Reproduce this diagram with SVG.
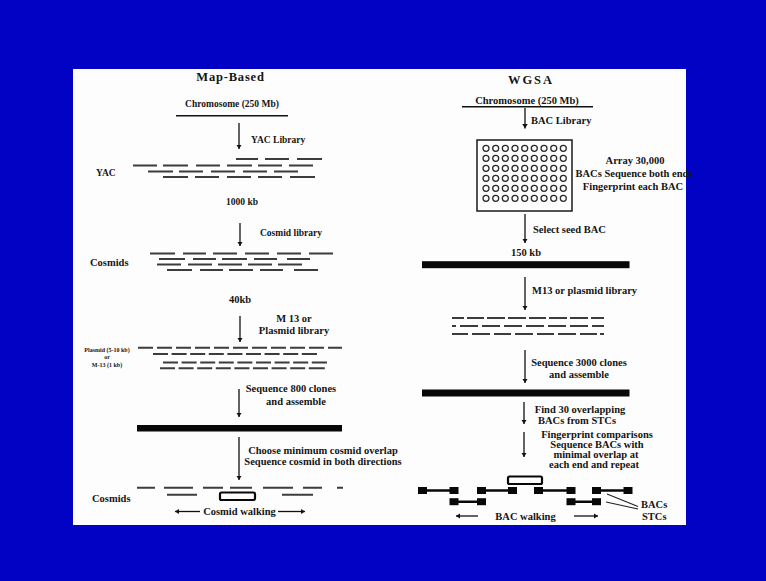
<svg xmlns="http://www.w3.org/2000/svg" xmlns:xlink="http://www.w3.org/1999/xlink" width="766" height="581" viewBox="0 0 766 581">
<style>
text{font-family:"Liberation Serif","Times New Roman",serif;font-weight:bold;fill:#151515;font-size:10.5px}
.s{font-size:9.5px}
.h{font-size:12.5px}
.t{font-size:6px}
.m{text-anchor:middle}
.ln{stroke:#111;stroke-width:1.5;fill:none}
.ar{stroke:#111;stroke-width:1.3;fill:none;marker-end:url(#ah)}
.da{stroke:#3c3c3c;stroke-width:2;fill:none}
.bar{fill:#080808}
.blk{fill:#080808}
.cb{fill:#fff;stroke:#080808;stroke-width:2.2}
.ci{fill:none;stroke:#2a2a2a;stroke-width:1.3}
</style>
<defs>
<marker id="ah" viewBox="0 0 8 10" refX="8" refY="5" markerWidth="4.5" markerHeight="5.5" markerUnits="userSpaceOnUse" orient="auto">
<path d="M0,0 L8,5 L0,10 z" fill="#111"/>
</marker>
<g id="crow">
<circle class="ci" cx="486" cy="0" r="3"/><circle class="ci" cx="495.7" cy="0" r="3"/><circle class="ci" cx="505.3" cy="0" r="3"/><circle class="ci" cx="515" cy="0" r="3"/><circle class="ci" cx="524.7" cy="0" r="3"/><circle class="ci" cx="534.3" cy="0" r="3"/><circle class="ci" cx="544" cy="0" r="3"/><circle class="ci" cx="553.7" cy="0" r="3"/><circle class="ci" cx="563.3" cy="0" r="3"/>
</g>
</defs>
<rect x="0" y="0" width="766" height="581" fill="#0202c4"/>
<rect x="73" y="69" width="613" height="456" fill="#fdfdfd"/>

<!-- Left column: Map-Based -->
<g id="map-title"><text class="h m" x="230.5" y="81" letter-spacing="0.8">Map-Based</text></g>
<g id="chromosome-left">
<text class="s m" x="232" y="106.5">Chromosome (250 Mb)</text>
<line class="ln" x1="176" y1="115.7" x2="288" y2="115.7"/>
</g>
<g id="yac">
<text class="s" x="96" y="176">YAC</text>
<path class="da" d="M236,159h22M265,159h24M297,159h25M133,165.5h24M163,165.5h25M196,165.5h24M227,165.5h25M258,165.5h24M289,165.5h24M148,171.5h25M179,171.5h24M211,171.5h24M243,171.5h24M274,171.5h24M163,177h25M195,177h24M227,177h24M258,177h24M290,177h25"/>
<text class="s m" x="242" y="205">1000 kb</text>
</g>
<g id="cosmids">
<text x="90" y="266">Cosmids</text>
<path class="da" d="M150,253.5h25M183,253.5h23M213,253.5h24M245,253.5h24M277,253.5h24M309,253.5h24M159,259h26M193,259h23M222,259h25M254,259h23M287,259h23M157,264.5h24M188,264.5h24M218,264.5h24M248,264.5h24M278,264.5h24M167,270h25M200,270h23M229,270h24M260,270h23M294,270h24"/>
<text class="m" x="240" y="302.5">40kb</text>
</g>
<g id="plasmid">
<text class="t m" x="107" y="351.5">Plasmid (5-10 kb)</text>
<text class="t m" x="107" y="359">or</text>
<text class="t m" x="107" y="367">M-13 (1 kb)</text>
<path class="da" d="M138,347.7h15M157,347.7h15M176,347.7h15M195,347.7h15M214,347.7h15M233,347.7h15M252,347.7h15M271,347.7h15M290,347.7h15M309,347.7h15M328,347.7h14M153,354h15M171.6,354h15M190.2,354h15M208.8,354h15M227.4,354h15M246,354h15M264.6,354h15M283.2,354h15M301.8,354h15.2M163,362.5h15M181.6,362.5h15M200.2,362.5h15M218.8,362.5h15M237.4,362.5h15M256,362.5h15M274.6,362.5h15M293.2,362.5h15M311.8,362.5h15.2M160,368.3h15M178.6,368.3h15M197.2,368.3h15M215.8,368.3h15M234.4,368.3h15M253,368.3h15M271.6,368.3h15M290.2,368.3h15M308.8,368.3h16"/>
</g>
<g id="assembled-left">
<rect class="bar" x="137" y="425" width="205" height="6.5"/>
</g>
<g id="cosmid-walk">
<text x="92" y="501.5">Cosmids</text>
<path class="da" d="M137,487.7h18M164,487.7h29M203,487.7h20M230,487.7h22M263,487.7h30M303,487.7h19M337,487.7h6M167,494.7h30M282,494.7h31"/>
<rect class="cb" x="220" y="492.5" width="35" height="7.5" rx="1.5"/>
<text class="m" x="239.5" y="515">Cosmid walking</text>
</g>

<!-- Right column: WGSA -->
<g id="wgsa-title"><text class="h m" x="531" y="83.5" letter-spacing="2">WGSA</text></g>
<g id="chromosome-right">
<text class="m" x="527" y="103.5">Chromosome (250 Mb)</text>
<line class="ln" x1="462" y1="106.7" x2="593" y2="106.7"/>
</g>
<g id="bac-array">
<rect x="477" y="140" width="95" height="71" fill="none" stroke="#1a1a1a" stroke-width="1.5"/>
<use xlink:href="#crow" y="148.3"/>
<use xlink:href="#crow" y="158.3"/>
<use xlink:href="#crow" y="168.3"/>
<use xlink:href="#crow" y="178.3"/>
<use xlink:href="#crow" y="188.3"/>
<use xlink:href="#crow" y="198.3"/>
<text class="m" x="635" y="163.5">Array 30,000</text>
<text class="m" x="634" y="176.5">BACs Sequence both ends</text>
<text class="m" x="633" y="190">Fingerprint each BAC</text>
</g>
<g id="seed-bac">
<text class="m" x="526" y="255.5">150 kb</text>
<rect class="bar" x="422" y="261.2" width="207.5" height="7"/>
</g>
<g id="m13-reads">
<path class="da" d="M452,318h12M467,318h17M487,318h18M508,318h18M529,318h17M549,318h18M570,318h18M591,318h13M452,326h4M460,326h18M482,326h18M504,326h18M526,326h18M548,326h18M570,326h18M592,326h12M452,334h16M472,334h18M494,334h17M515,334h18M537,334h17M558,334h18M580,334h17M600,334h4"/>
</g>
<g id="assembled-right">
<rect class="bar" x="422" y="389.5" width="207.5" height="7"/>
</g>
<g id="bac-walk">
<path d="M422,490.5H454M481,490.5H513M538,490.5H571M596,490.5H628M454,501.7H481M571,501.7H596" stroke="#080808" stroke-width="2.5" fill="none"/>
<rect class="blk" x="418" y="487" width="9" height="7"/><rect class="blk" x="449.5" y="487" width="9" height="7"/>
<rect class="blk" x="477" y="487" width="9" height="7"/><rect class="blk" x="508" y="487" width="9" height="7"/>
<rect class="blk" x="534" y="487" width="9" height="7"/><rect class="blk" x="566.5" y="487" width="9" height="7"/>
<rect class="blk" x="592" y="487" width="9" height="7"/><rect class="blk" x="623.5" y="487" width="9" height="7"/>
<rect class="blk" x="449.5" y="498.2" width="9" height="7"/><rect class="blk" x="477" y="498.2" width="9" height="7"/>
<rect class="blk" x="566.5" y="498.2" width="9" height="7"/><rect class="blk" x="592" y="498.2" width="9" height="7"/>
<rect class="cb" x="508" y="476.5" width="34" height="7.5" rx="1.5"/>
<text x="641" y="508">BACs</text>
<text x="642" y="520">STCs</text>
<text class="m" x="525.5" y="520">BAC walking</text>
</g>

<!-- Connectors -->
<g id="connectors">
<line class="ar" x1="239" y1="123" x2="239" y2="149"/>
<text class="s" x="251" y="142.5">YAC Library</text>
<line class="ar" x1="240" y1="223" x2="240" y2="246"/>
<text class="s" x="260" y="236">Cosmid library</text>
<line class="ar" x1="240" y1="316" x2="240" y2="342"/>
<text class="m" x="294" y="322">M 13 or</text>
<text class="m" x="294" y="334">Plasmid library</text>
<line class="ar" x1="239" y1="389" x2="239" y2="417"/>
<text class="m" x="291" y="391.5">Sequence 800 clones</text>
<text class="m" x="296" y="404.5">and assemble</text>
<line class="ar" x1="239" y1="437" x2="239" y2="480"/>
<text class="m" x="323" y="453.5">Choose minimum cosmid overlap</text>
<text class="m" x="323" y="465">Sequence cosmid in both directions</text>
<line class="ar" x1="200" y1="511.5" x2="175" y2="511.5"/>
<line class="ar" x1="278" y1="511.5" x2="305" y2="511.5"/>

<line class="ar" x1="525" y1="108" x2="525" y2="128.5"/>
<text x="531" y="123.5">BAC Library</text>
<line class="ar" x1="525" y1="214" x2="525" y2="243"/>
<text x="533" y="233">Select seed BAC</text>
<line class="ar" x1="525" y1="277" x2="525" y2="310"/>
<text x="532" y="294">M13 or plasmid library</text>
<line class="ar" x1="525" y1="350" x2="525" y2="383"/>
<text class="m" x="579" y="366">Sequence 3000 clones</text>
<text class="m" x="579" y="378">and assemble</text>
<line class="ar" x1="524" y1="402" x2="524" y2="424"/>
<text class="m" x="580" y="413">Find 30 overlapping</text>
<text class="m" x="577" y="423.5">BACs from STCs</text>
<line class="ar" x1="524" y1="432" x2="524" y2="457"/>
<text class="m" x="597" y="437.5">Fingerprint comparisons</text>
<text class="m" x="597" y="447.5">Sequence BACs with</text>
<text class="m" x="596" y="457.5">minimal overlap at</text>
<text class="m" x="594" y="467.5">each end and repeat</text>
<line class="ar" x1="478" y1="516" x2="456" y2="516"/>
<line class="ar" x1="574" y1="516" x2="598" y2="516"/>
<line x1="607" y1="494" x2="638" y2="506.5" stroke="#222" stroke-width="1.2"/>
<line x1="606" y1="502" x2="638" y2="509" stroke="#222" stroke-width="1.2"/>
</g>
</svg>
